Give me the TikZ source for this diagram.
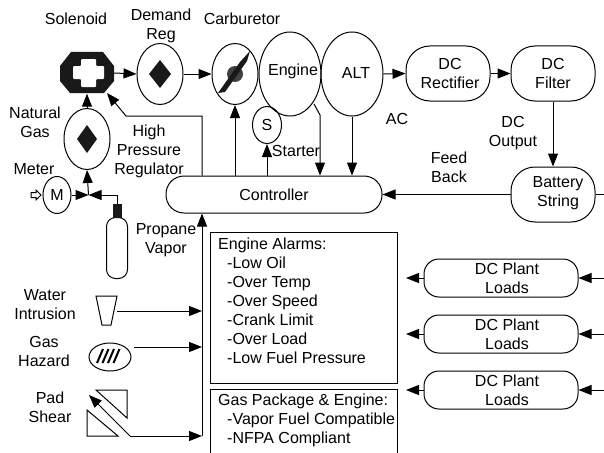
\documentclass[tikz,border=0pt]{standalone}
\usepackage{fontspec}
\setmainfont{Liberation Sans}
\usetikzlibrary{arrows.meta, shapes.geometric}
\tikzset{
    part/.style={draw, ellipse, inner sep=0pt, line width=1pt},
    block/.style={draw, rectangle, rounded corners=24pt, inner sep=0pt, line width=1pt,
        minimum width=84pt, minimum height=55pt, align=center},
    loadblock/.style={block, rounded corners=15pt, minimum width=154pt, minimum height=38pt},
    flow/.style={->, line width=1pt},
    link/.style={line width=1pt},
    lbl/.style={align=center, inner sep=0pt}
}
\begin{document}
\begin{tikzpicture}[x=1pt, y=-1pt, >={Triangle[length=13pt, width=10pt]},
    font=\fontsize{16}{19}\selectfont]
    \useasboundingbox (0,0) rectangle (604,452);
    \clip (0,0) rectangle (604,452);

    % top row
    \node[inner sep=0pt, minimum width=54pt, minimum height=41pt] (solenoid) at (87,73) {};
    \fill[black!90] (60,66) -- (71,52) -- (103,52) -- (114,66) -- (114,81) -- (104,93)
        -- (70,93) -- (60,81) -- cycle;
    \fill[white, rounded corners=1pt] (73,66) -- (81,66) -- (81,59) -- (96,59) -- (96,66) -- (104,66)
        -- (104,79) -- (96,79) -- (96,87) -- (81,87) -- (81,79) -- (73,79) -- cycle;
    \node[part, minimum width=46pt, minimum height=61pt] (demand) at (160,74) {};
    \fill[black!90] (160,60) -- (171,74) -- (160,88) -- (149,74) -- cycle;
    \node[part, minimum width=46pt, minimum height=61pt] (carb) at (235,74) {};
    \fill[black!75] (235,74) circle (8pt);
    \fill[black!90] (218,93) -- (240,62) -- (250,51) -- (247,61) -- (225,92) -- cycle;
    \node[part, minimum width=62pt, minimum height=84pt] (engine) at (290,74) {};
    \node[part, minimum width=62pt, minimum height=84pt] (alt) at (352,74) {};
    \node[block] (rectifier) at (448,73.5) {\hspace*{4pt}DC\\\hspace*{4pt}Rectifier};
    \node[block] (filter) at (553,73.5) {DC\\Filter};
    \node[block] (battery) at (553,194.5) {};
    \node[part, minimum width=29pt, minimum height=37pt] (starter) at (267,125) {S};
    \node[block, rounded corners=18pt, minimum width=216pt, minimum height=37pt] (controller) at (274,194.5) {Controller};

    % gas feed
    \node[part, minimum width=46pt, minimum height=61pt] (regulator) at (87,139) {};
    \fill[black!90] (87,125) -- (97,139) -- (87,153) -- (77,139) -- cycle;
    \node[part, minimum width=28pt, minimum height=37pt] (meter) at (57,195) {M};
    \draw[line width=1pt] (31,192.5) -- (36,192.5) -- (36,190) -- (41,195) -- (36,200) -- (36,197.5)
        -- (31,197.5) -- cycle;
    \node[draw, line width=1pt, rounded corners=9pt, minimum width=21pt, minimum height=61pt,
        inner sep=0pt] (tank) at (117,248) {};
    \node[fill=black!90, inner sep=0pt, minimum width=9pt, minimum height=14pt, anchor=south]
        (tankcap) at (117,218) {};
    \coordinate (join) at (88.5,195);
    \coordinate (tankbend) at (117,195);

    % sensors
    \coordinate (water) at (117,311);
    \draw[line width=1pt] (96,296) -- (117,296) -- (111,325) -- (102,325) -- cycle;
    \node[part, minimum width=42pt, minimum height=28pt] (hazard) at (110,357) {};
    \foreach \x in {97,102.5,108,113.5}
        \draw[line width=2pt] (\x,363) -- (\x+6,349);
    \draw[line width=1pt] (96,390) -- (127,390) -- (127,418) -- cycle;
    \draw[line width=1pt] (87,410) -- (87,436) -- (118,436) -- cycle;

    % connectors along the top
    \draw[flow] (solenoid.east) -- (demand.west);
    \draw[flow] (demand.east) -- (carb.west);
    \draw[flow] (alt.east) -- (rectifier.west);
    \draw[flow] (rectifier.east) -- (filter.west);
    \draw[flow] (filter.south) -- (battery.north);
    \draw[flow] (battery.west) -- (controller.east);
    \coordinate (batteryout) at (604,194.5);
    \draw[link] (battery.east) -- (batteryout);

    % connectors to and from the controller
    \coordinate (hpbendb) at (202,116);
    \coordinate (hpbenda) at (126,116);
    \draw[flow] (hpbendb |- controller.north) -- (hpbendb) -- (hpbenda) -- (107,93);
    \draw[flow] (carb.south |- controller.north) -- (carb.south);
    \draw[flow] (starter.south |- controller.north) -- (starter.south);
    \coordinate (enginebend) at (320,115);
    \draw[flow] (314,104) -- (enginebend) -- (enginebend |- controller.north);
    \draw[flow] (alt.south) -- (alt.south |- controller.north);

    % gas feed connectors
    \draw[flow] (regulator.north) -- (regulator.north |- solenoid.south);
    \draw[flow] (join) -- (regulator.south);
    \draw[flow] (meter.east) -- (join);
    \draw[flow] (tankcap.north) -- (tankbend) -- (join);

    % sensor bus
    \coordinate (busend) at (202,436);
    \coordinate (shearbend) at (130,436);
    \draw[flow] (busend) -- (busend |- controller.south);
    \draw[flow] (water) -- (busend |- water);
    \draw[flow] (134,347) -- (202,347);
    \draw[flow] (shearbend) -- (busend);
    \draw[flow] (shearbend) -- (89,395);

    % alarm boxes
    \node[draw, line width=1pt, inner sep=0pt, minimum width=187pt, minimum height=151pt,
        anchor=north west] (alarmbox) at (210,232) {};
    \node[anchor=north west, align=left, inner sep=0pt] (alarmtext) at (218,238) {Engine Alarms:\\
        \hspace*{9pt}-Low Oil\\ \hspace*{9pt}-Over Temp\\ \hspace*{9pt}-Over Speed\\
        \hspace*{9pt}-Crank Limit\\ \hspace*{9pt}-Over Load\\ \hspace*{9pt}-Low Fuel Pressure};
    \node[draw, line width=1pt, inner sep=0pt, minimum width=187pt, minimum height=80pt,
        anchor=north west] (gasbox) at (210,389) {};
    \node[anchor=north west, align=left, inner sep=0pt] (gastext) at (218,394) {Gas Package \& Engine:\\
        \hspace*{9pt}-Vapor Fuel Compatible\\ \hspace*{9pt}-NFPA Compliant};

    % plant loads
    \node[loadblock] (loada) at (501,278) {\hspace*{12pt}DC Plant\\\hspace*{12pt}Loads};
    \node[loadblock] (loadb) at (501,334) {\hspace*{12pt}DC Plant\\\hspace*{12pt}Loads};
    \node[loadblock] (loadc) at (501,390) {\hspace*{12pt}DC Plant\\\hspace*{12pt}Loads};
    \coordinate (loadright) at (604,0);
    \coordinate (loadleft) at (406,0);
    \foreach \n in {loada,loadb,loadc} {
        \draw[flow] (\n.east -| loadright) -- (\n.east);
        \draw[flow] (\n.west) -- (\n.west -| loadleft);
    }

    % labels
    \node[lbl] (lblsolenoid) at (76,19) {Solenoid};
    \node[lbl] (lbldemand) at (161,26) {Demand\\Reg};
    \node[lbl] (lblcarb) at (242,19) {Carburetor};
    \node[lbl] (lblengine) at (293,71) {Engine};
    \node[lbl] (lblalt) at (356,73) {ALT};
    \node[lbl] (lblac) at (397,119) {AC};
    \node[lbl] (lbloutput) at (513,133) {DC\\Output};
    \node[lbl] (lblfeed) at (449,167) {Feed\\Back};
    \node[lbl] (lblbattery) at (558,193) {Battery\\String};
    \node[lbl] (lblstarter) at (296,151) {Starter};
    \node[lbl] (lblnatural) at (35,122) {Natural\\Gas};
    \node[lbl] (lblhigh) at (149,151) {High\\Pressure\\Regulator};
    \node[lbl] (lblmeter) at (34,169) {Meter};
    \node[lbl] (lblpropane) at (166,240) {Propane\\Vapor};
    \node[lbl] (lblwater) at (45,305) {Water\\Intrusion};
    \node[lbl] (lblhazard) at (44,351) {Gas\\Hazard};
    \node[lbl] (lblshear) at (50,407) {Pad\\Shear};
\end{tikzpicture}
\end{document}
